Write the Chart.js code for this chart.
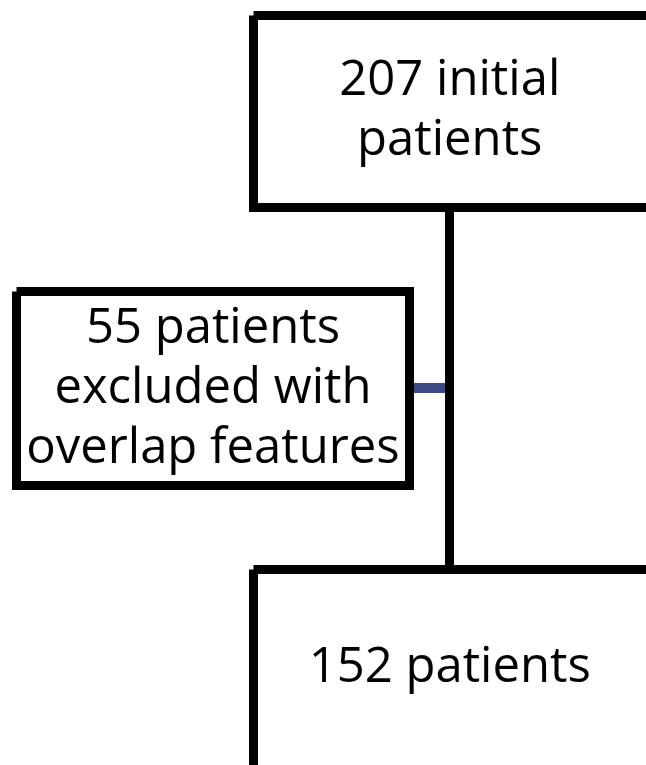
<!DOCTYPE html>
<html lang="en">
<head>
    <meta charset="UTF-8">
    <title>Patient flow</title>
    <script src="https://cdn.jsdelivr.net/npm/chart.js"></script>
    <style>
        body {
            margin: 0;
            padding: 0;
            background-color: white;
        }
        .grafico-container {
            width: 646px;
            height: 765px;
            position: relative;
        }
    </style>
</head>
<body>

<div class="grafico-container">
    <canvas id="flujo"></canvas>
</div>

<script>
    // boxes of the flow diagram (chart units = pixels of the 646x765 layout)
    const boxLabels = [
        ['207 initial', 'patients'],
        ['55 patients', 'excluded with', 'overlap features'],
        ['152 patients']
    ];
    const boxLeft   = [253.5, 16.5, 253.5];
    const boxRight  = [660, 409.5, 660];
    const boxTop    = [15.5, 291.5, 569.5];
    const boxBottom = [207.5, 485.5, 780];
    const firstBaseline = [95, 343, 682];

    // connectors
    const mainLineX = [449.5, 449.5];
    const mainLineY = [207.5, 569.5];
    const sideLineX = [409.5, 449.5];
    const sideLineY = [388, 388];

    const boxDatasets = boxLabels.map((lbl, i) => ({
        label: lbl.join(' '),
        data: [
            { x: boxLeft[i], y: boxTop[i] },
            { x: boxRight[i], y: boxTop[i] },
            { x: boxRight[i], y: boxBottom[i] },
            { x: boxLeft[i], y: boxBottom[i] },
            { x: boxLeft[i], y: boxTop[i] }
        ],
        showLine: true,
        borderColor: '#000000',
        borderWidth: 9,
        borderJoinStyle: 'miter',
        pointRadius: 0,
        fill: false,
        tension: 0,
        clip: false,
        order: 0
    }));

    const textPlugin = {
        id: 'boxText',
        afterDatasetsDraw(chart) {
            const ctx = chart.ctx;
            const xs = chart.scales.x;
            const ys = chart.scales.y;
            ctx.save();
            ctx.fillStyle = '#000000';
            ctx.font = '49px "Open Sans", sans-serif';
            ctx.textAlign = 'center';
            ctx.textBaseline = 'alphabetic';
            boxLabels.forEach((lines, i) => {
                const cx = xs.getPixelForValue((boxLeft[i] + Math.min(boxRight[i], 646)) / 2);
                lines.forEach((t, j) => {
                    ctx.fillText(t, cx, ys.getPixelForValue(firstBaseline[i] + j * 60));
                });
            });
            ctx.restore();
        }
    };

    new Chart(document.getElementById('flujo').getContext('2d'), {
        type: 'scatter',
        data: {
            datasets: [
                {
                    label: 'excluded',
                    data: sideLineX.map((x, i) => ({ x: x, y: sideLineY[i] })),
                    showLine: true,
                    borderColor: '#3b4a84',
                    borderWidth: 10,
                    pointRadius: 0,
                    clip: false,
                    order: 3
                },
                {
                    label: 'flow',
                    data: mainLineX.map((x, i) => ({ x: x, y: mainLineY[i] })),
                    showLine: true,
                    borderColor: '#000000',
                    borderWidth: 9,
                    pointRadius: 0,
                    clip: false,
                    order: 2
                },
                ...boxDatasets
            ]
        },
        options: {
            responsive: true,
            maintainAspectRatio: false,
            animation: false,
            layout: { padding: 0 },
            scales: {
                x: { type: 'linear', min: 0, max: 646, display: false },
                y: { type: 'linear', min: 0, max: 765, reverse: true, display: false }
            },
            plugins: {
                legend: { display: false },
                tooltip: { enabled: false }
            }
        },
        plugins: [textPlugin]
    });
</script>

</body>
</html>
